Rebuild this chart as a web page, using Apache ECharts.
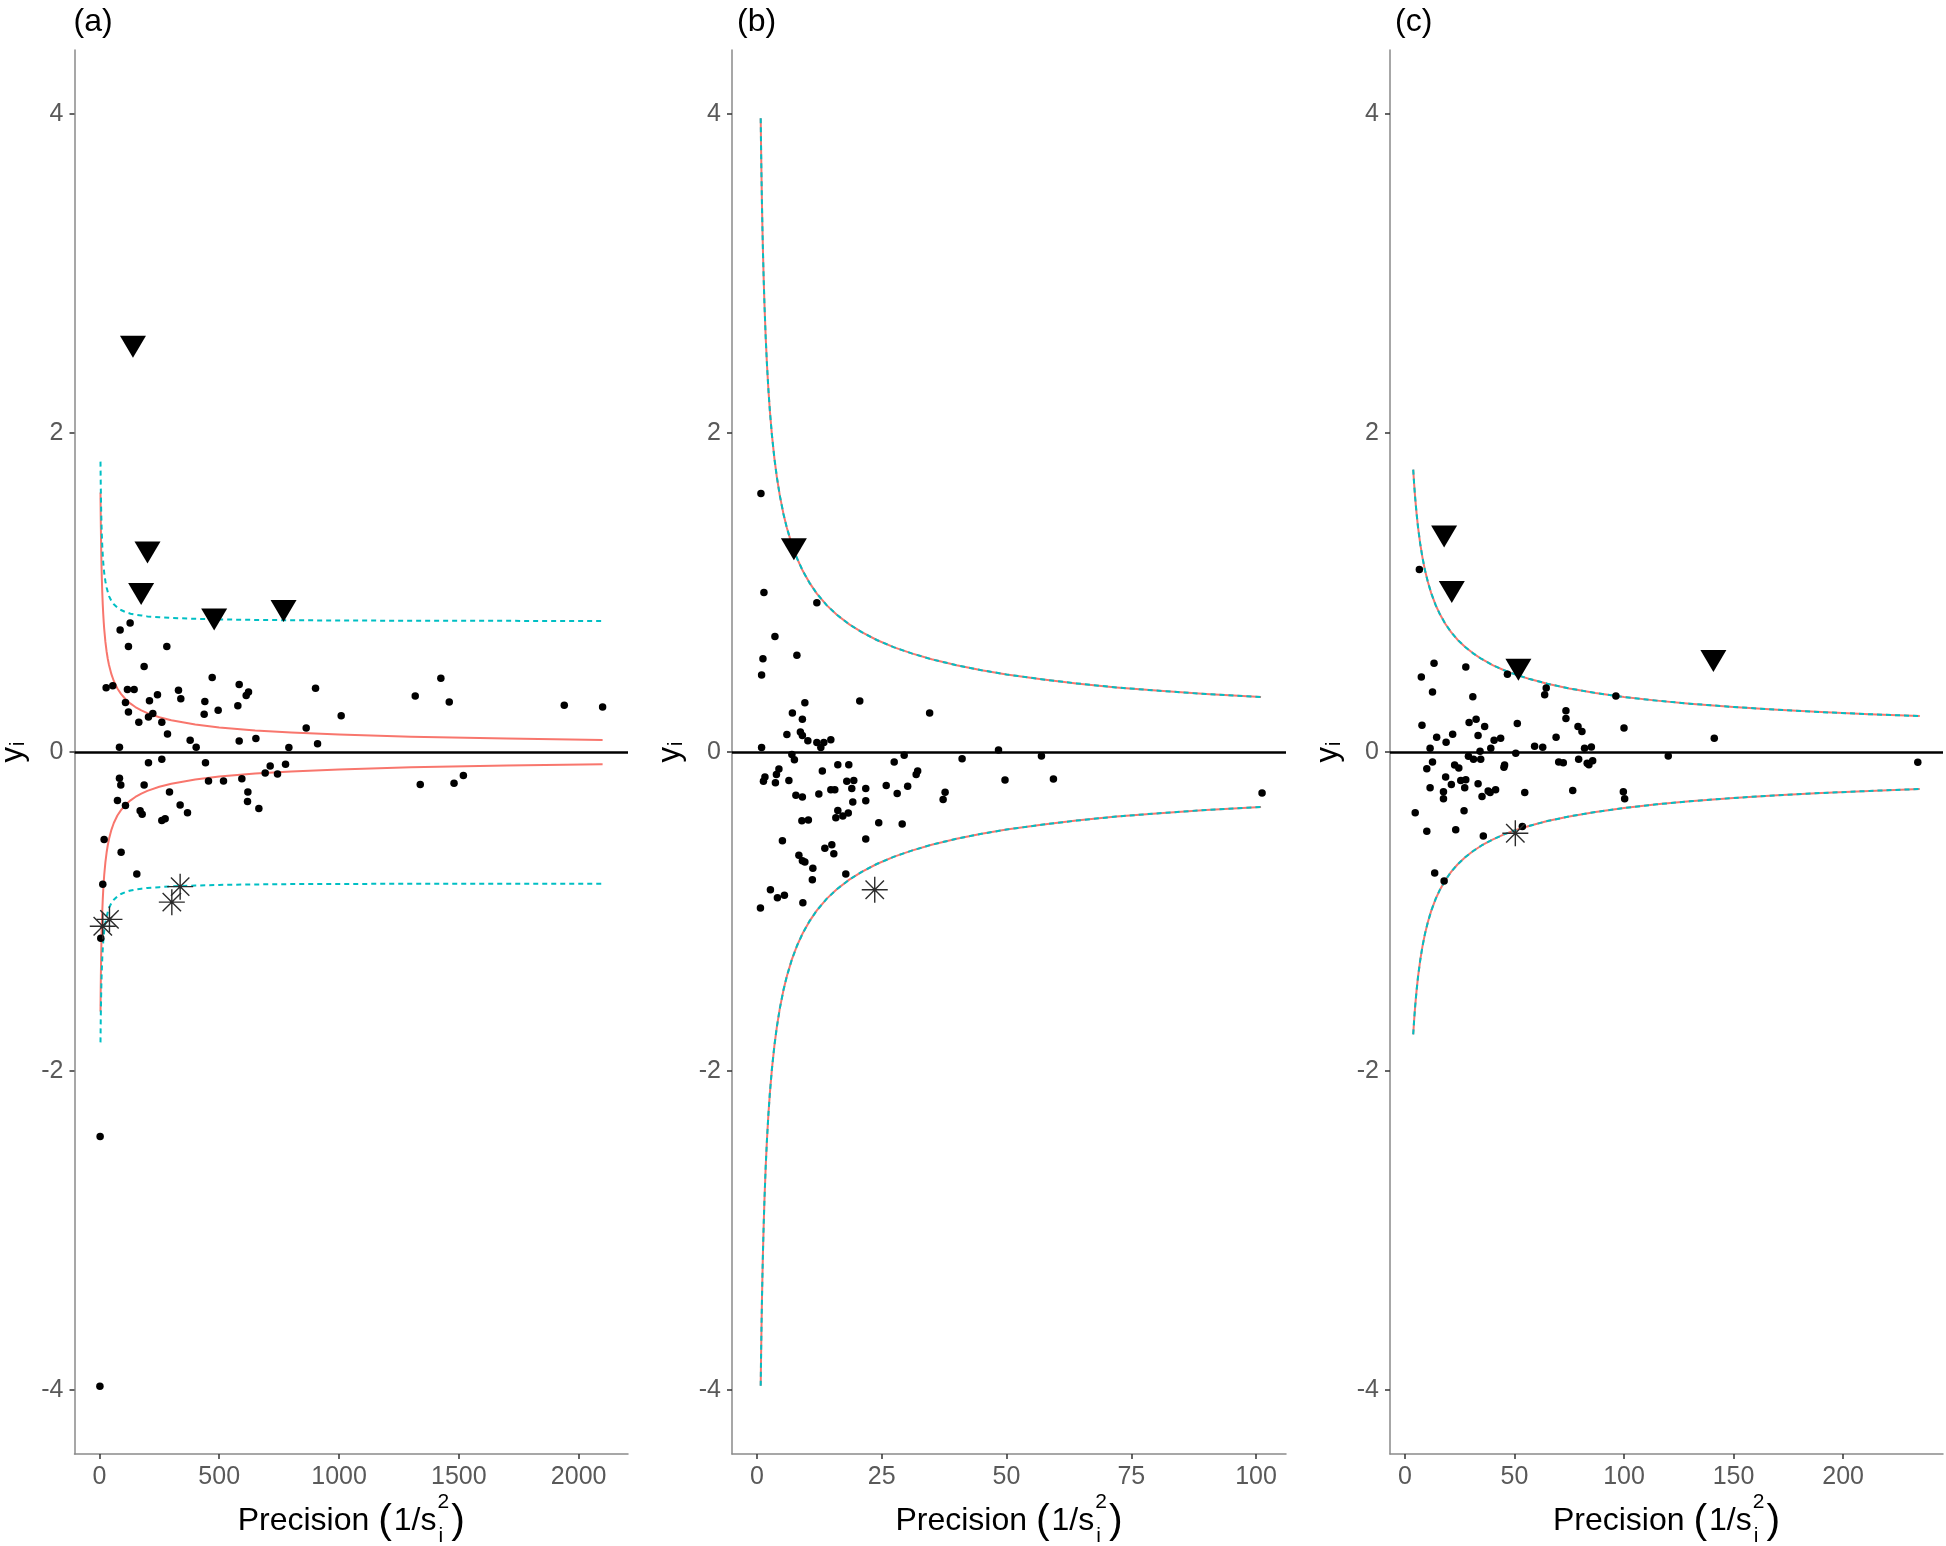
<!DOCTYPE html>
<html>
<head>
<meta charset="utf-8">
<script src="https://cdn.jsdelivr.net/npm/echarts@6/dist/echarts.min.js"></script>
<style>html,body{margin:0;padding:0;background:#fff}#chart{width:1946px;height:1546px}</style>
</head>
<body>
<div id="chart"></div>
<script>
// ---------------- DATA ----------------
const panelTags = ['(a)', '(b)', '(c)'];
const xTickValues = [[0, 500, 1000, 1500, 2000], [0, 25, 50, 75, 100], [0, 50, 100, 150, 200]];
const yTickValues = [-4, -2, 0, 2, 4];

// Panel (a)
const aDots = [[86.4,0.765],[128.2,0.808],[121.2,0.661],[281.3,0.661],[186.6,0.536],[28,0.402],[55.8,0.415],[117,0.391],[144.9,0.391],[108.7,0.311],[121.2,0.251],[164.4,0.186],[208.9,0.322],[242.3,0.359],[204.7,0.220],[222.8,0.242],[260.4,0.186],[284.1,0.113],[330,0.387],[339.7,0.333],[470.6,0.467],[440,0.316],[437.2,0.236],[495.6,0.262],[583.3,0.423],[622.3,0.376],[612.5,0.354],[577.7,0.290],[583.3,0.069],[652.9,0.085],[378.7,0.074],[403.8,0.030],[83.6,0.030],[863,0.150],[902,0.400],[790.7,0.028],[910.4,0.051],[1009,0.227],[1318,0.351],[1425,0.462],[1460,0.313],[1940,0.293],[2100,0.282],
[204.7,-0.067],[260.4,-0.045],[442.7,-0.067],[83.6,-0.164],[89.2,-0.207],[186.6,-0.207],[75.3,-0.304],[108.7,-0.336],[169.9,-0.369],[178.3,-0.390],[260.4,-0.429],[274.3,-0.418],[292.4,-0.250],[336.9,-0.332],[367.6,-0.380],[455.3,-0.181],[517.9,-0.181],[594.4,-0.168],[619.5,-0.250],[618.1,-0.310],[665.4,-0.354],[691.9,-0.131],[712.7,-0.088],[743.3,-0.138],[776.8,-0.077],[1339,-0.203],[1480,-0.196],[1519,-0.148],
[19.6,-0.548],[90.6,-0.628],[156,-0.764],[14,-0.829],[5.7,-1.168],[3,-2.41],[2,-3.976]];
const aTriangles = [[140,2.54],[200.6,1.25],[174.1,0.99],[478.9,0.83],[768.4,0.883]];
const aStars = [[336.9,-0.844],[302.2,-0.941],[41.9,-1.049],[14,-1.092]];
const aRedUpper = [[4.5,1.626],[5,1.543],[5.5,1.471],[6,1.408],[7,1.304],[8,1.220],[9,1.150],[10,1.091],[12,0.996],[14,0.922],[16,0.863],[18,0.813],[20,0.771],[25,0.690],[30,0.630],[35,0.583],[40,0.545],[50,0.488],[60,0.445],[75,0.398],[90,0.364],[110,0.329],[130,0.303],[150,0.282],[175,0.261],[200,0.244],[250,0.218],[300,0.199],[400,0.173],[500,0.154],[650,0.135],[800,0.122],[1000,0.109],[1300,0.096],[1700,0.084],[2100,0.075]];
const aRedLower = [[4.5,-1.626],[5,-1.543],[5.5,-1.471],[6,-1.408],[7,-1.304],[8,-1.220],[9,-1.150],[10,-1.091],[12,-0.996],[14,-0.922],[16,-0.863],[18,-0.813],[20,-0.771],[25,-0.690],[30,-0.630],[35,-0.583],[40,-0.545],[50,-0.488],[60,-0.445],[75,-0.398],[90,-0.364],[110,-0.329],[130,-0.303],[150,-0.282],[175,-0.261],[200,-0.244],[250,-0.218],[300,-0.199],[400,-0.173],[500,-0.154],[650,-0.135],[800,-0.122],[1000,-0.109],[1300,-0.096],[1700,-0.085],[2100,-0.077]];
const aCyanUpper = [[4.5,1.820],[5,1.746],[5.5,1.682],[6,1.628],[7,1.539],[8,1.468],[9,1.410],[10,1.363],[12,1.288],[14,1.232],[16,1.188],[18,1.152],[20,1.123],[25,1.069],[30,1.031],[35,1.003],[40,0.977],[50,0.947],[60,0.926],[75,0.905],[90,0.890],[110,0.876],[130,0.867],[150,0.861],[175,0.856],[200,0.850],[250,0.845],[300,0.840],[400,0.835],[500,0.831],[650,0.828],[800,0.826],[1000,0.824],[1300,0.823],[1700,0.822],[2100,0.821]];
const aCyanLower = [[4.5,-1.820],[5,-1.746],[5.5,-1.682],[6,-1.628],[7,-1.539],[8,-1.468],[9,-1.410],[10,-1.363],[12,-1.288],[14,-1.232],[16,-1.188],[18,-1.152],[20,-1.123],[25,-1.069],[30,-1.031],[35,-1.003],[40,-0.977],[50,-0.947],[60,-0.926],[75,-0.905],[90,-0.890],[110,-0.877],[130,-0.868],[150,-0.862],[175,-0.857],[200,-0.852],[250,-0.847],[300,-0.842],[400,-0.837],[500,-0.833],[650,-0.830],[800,-0.828],[1000,-0.827],[1300,-0.826],[1700,-0.825],[2100,-0.825]];

// Panel (b)
const bDots = [[0.8,1.621],[1.4,1.0],[12.0,0.936],[3.6,0.724],[1.2,0.585],[8.0,0.607],[0.93,0.482],[9.6,0.309],[20.6,0.320],[7.1,0.244],[9.1,0.205],[34.6,0.244],[6.0,0.110],[8.7,0.125],[9.1,0.103],[10.2,0.071],[12.0,0.060],[13.4,0.060],[14.8,0.077],[12.8,0.028],[0.93,0.028],[48.4,0.012],
[7.0,-0.015],[7.5,-0.048],[29.5,-0.020],[27.5,-0.063],[41.1,-0.042],[4.4,-0.106],[3.9,-0.141],[1.6,-0.156],[1.3,-0.184],[3.7,-0.193],[6.4,-0.178],[13.1,-0.119],[16.2,-0.080],[18.4,-0.080],[18.0,-0.184],[19.4,-0.178],[14.8,-0.236],[15.6,-0.236],[19.0,-0.228],[21.8,-0.228],[12.4,-0.264],[7.8,-0.271],[9.1,-0.282],[25.9,-0.210],[30.2,-0.215],[32.2,-0.119],[31.9,-0.141],[28.1,-0.260],[19.2,-0.314],[21.8,-0.305],[37.7,-0.253],[37.3,-0.297],[16.2,-0.366],[15.8,-0.412],[17.2,-0.401],[18.3,-0.383],[9.0,-0.431],[10.3,-0.426],[24.4,-0.444],[29.1,-0.452],[5.1,-0.556],[13.6,-0.604],[15.0,-0.582],[15.4,-0.638],[21.8,-0.545],[8.4,-0.647],[9.1,-0.681],[9.6,-0.690],[11.2,-0.729],[11.1,-0.801],[17.8,-0.764],[2.7,-0.863],[4.1,-0.913],[5.5,-0.898],[0.7,-0.978],[9.2,-0.945],
[57.0,-0.025],[49.7,-0.175],[59.4,-0.170],[101.2,-0.257]];
const bTriangles = [[7.4,1.271]];
const bStars = [[23.6,-0.863]];
const bUpper = [[0.75,3.972],[0.8,3.846],[0.85,3.731],[0.9,3.626],[1.0,3.440],[1.1,3.280],[1.2,3.140],[1.35,2.961],[1.5,2.809],[1.75,2.600],[2.0,2.432],[2.3,2.268],[2.6,2.133],[3.0,1.986],[3.5,1.839],[4.0,1.720],[4.6,1.604],[5.3,1.494],[6.0,1.404],[7.0,1.300],[8.0,1.216],[9.2,1.134],[10.5,1.062],[12,0.993],[14,0.919],[16,0.860],[18.5,0.800],[21,0.751],[24,0.702],[27.5,0.656],[31,0.618],[35,0.581],[40,0.544],[45,0.513],[50,0.486],[57,0.456],[64,0.430],[72,0.405],[80,0.385],[90,0.363],[101,0.345]];
const bLower = [[0.75,-3.972],[0.8,-3.846],[0.85,-3.731],[0.9,-3.626],[1.0,-3.440],[1.1,-3.280],[1.2,-3.140],[1.35,-2.961],[1.5,-2.809],[1.75,-2.600],[2.0,-2.432],[2.3,-2.268],[2.6,-2.133],[3.0,-1.986],[3.5,-1.839],[4.0,-1.720],[4.6,-1.604],[5.3,-1.494],[6.0,-1.404],[7.0,-1.300],[8.0,-1.216],[9.2,-1.134],[10.5,-1.062],[12,-0.993],[14,-0.919],[16,-0.860],[18.5,-0.800],[21,-0.751],[24,-0.702],[27.5,-0.656],[31,-0.618],[35,-0.581],[40,-0.544],[45,-0.513],[50,-0.486],[57,-0.456],[64,-0.430],[72,-0.405],[80,-0.385],[90,-0.363],[101,-0.345]];

// Panel (c)
const cDots = [[6.6,1.144],[13.3,0.557],[7.5,0.470],[27.8,0.532],[12.6,0.376],[31.0,0.346],[46.8,0.488],[64.5,0.401],[63.8,0.359],[96.3,0.351],[100,0.150],[7.8,0.168],[29.3,0.185],[32.5,0.205],[36.4,0.160],[33.4,0.103],[51.3,0.178],[73.5,0.259],[73.5,0.210],[79.0,0.160],[80.8,0.128],[69.0,0.093],[14.5,0.093],[18.8,0.061],[21.8,0.111],[11.5,0.024],[40.7,0.074],[43.7,0.086],[39.2,0.024],[34.3,0.004],[59.2,0.036],[62.9,0.029],[82.0,0.024],[85.1,0.031],[141.2,0.086],
[50.6,-0.008],[29.0,-0.026],[31.3,-0.045],[34.6,-0.045],[12.6,-0.063],[10.0,-0.105],[22.7,-0.082],[24.6,-0.100],[45.5,-0.082],[45.2,-0.095],[70.2,-0.063],[72.3,-0.068],[79.3,-0.045],[83.2,-0.070],[85.7,-0.055],[84.0,-0.080],[11.5,-0.224],[18.6,-0.157],[21.2,-0.204],[17.6,-0.249],[17.6,-0.293],[25.5,-0.179],[27.8,-0.174],[27.3,-0.224],[33.4,-0.199],[35.2,-0.279],[38.0,-0.244],[38.9,-0.254],[41.4,-0.236],[54.7,-0.254],[76.6,-0.241],[99.7,-0.249],[100.3,-0.293],[4.7,-0.380],[27.0,-0.368],[10.0,-0.497],[23.2,-0.487],[35.8,-0.526],[53.6,-0.467],[13.6,-0.759],[17.9,-0.809],[120.2,-0.025],[234.1,-0.065]];
const cTriangles = [[17.9,1.35],[21.4,1.003],[51.8,0.515],[140.8,0.570]];
const cStars = [[50.4,-0.509]];
const cUpper = [[3.8,1.770],[4.2,1.683],[4.7,1.591],[5.3,1.499],[6.0,1.408],[7.0,1.304],[8.0,1.220],[9.2,1.137],[10.5,1.065],[12,0.996],[14,0.922],[16,0.863],[18.5,0.802],[21,0.753],[24,0.704],[27.5,0.658],[31,0.620],[35,0.583],[40,0.545],[45,0.514],[50,0.488],[57,0.457],[65,0.428],[75,0.398],[87,0.370],[100,0.345],[115,0.322],[130,0.303],[150,0.282],[170,0.265],[190,0.250],[212,0.237],[235,0.225]];
const cLower = [[3.8,-1.770],[4.2,-1.683],[4.7,-1.591],[5.3,-1.499],[6.0,-1.408],[7.0,-1.304],[8.0,-1.220],[9.2,-1.137],[10.5,-1.065],[12,-0.996],[14,-0.922],[16,-0.863],[18.5,-0.802],[21,-0.753],[24,-0.705],[27.5,-0.660],[31,-0.622],[35,-0.586],[40,-0.549],[45,-0.518],[50,-0.492],[57,-0.462],[65,-0.433],[75,-0.404],[87,-0.376],[100,-0.351],[115,-0.328],[130,-0.309],[150,-0.288],[170,-0.271],[190,-0.257],[212,-0.244],[235,-0.232]];

// ---------------- LAYOUT / STYLE ----------------
const FONT = "'Liberation Sans', Arial, Helvetica, sans-serif";
const RED = '#F8766D', CYAN = '#00BFC4';
const gridBoxes = [
  {left: 74.5, top: 50, width: 553.5, height: 1404},
  {left: 732, top: 50, width: 554, height: 1404},
  {left: 1390, top: 50, width: 553, height: 1404}
];
const xRanges = [[-104, 2206], [-5, 106], [-6.8, 245.6]];
const yRange = [-4.4, 4.4];

const panels = [
  {dots: aDots, tri: aTriangles, stars: aStars, redU: aRedUpper, redL: aRedLower, cyU: aCyanUpper, cyL: aCyanLower},
  {dots: bDots, tri: bTriangles, stars: bStars, redU: bUpper, redL: bLower, cyU: bUpper, cyL: bLower},
  {dots: cDots, tri: cTriangles, stars: cStars, redU: cUpper, redL: cLower, cyU: cUpper, cyL: cLower}
];

const axisLineStyle = {color: '#8a8a8a', width: 1.5};
const tickStyle = {color: '#333333', width: 1.5};
const labelColor = '#595959';

const grids = [], xAxes = [], yAxes = [], series = [];
const STAR = 'path://M12,0L12,24M0,12L24,12M3.5,3.5L20.5,20.5M3.5,20.5L20.5,3.5';

panels.forEach((p, i) => {
  grids.push(Object.assign({containLabel: false, outerBoundsMode: 'none'}, gridBoxes[i]));
  xAxes.push({
    gridIndex: i, type: 'value', min: xRanges[i][0], max: xRanges[i][1],
    axisLine: {show: true, onZero: false, lineStyle: axisLineStyle},
    axisTick: {show: true, length: 5, lineStyle: tickStyle, customValues: xTickValues[i]},
    axisLabel: {customValues: xTickValues[i], margin: 11, fontSize: 25, fontFamily: FONT, color: labelColor,
      formatter: v => String(v)},
    splitLine: {show: false}
  });
  yAxes.push({
    gridIndex: i, type: 'value', min: yRange[0], max: yRange[1],
    axisLine: {show: true, onZero: false, lineStyle: axisLineStyle},
    axisTick: {show: true, length: 5, lineStyle: tickStyle, customValues: yTickValues},
    axisLabel: {customValues: yTickValues, margin: 11, fontSize: 25, fontFamily: FONT, color: labelColor,
      formatter: v => String(v)},
    splitLine: {show: false},
    name: '{m|y}{s|i}', nameLocation: 'middle', nameGap: 46, nameRotate: 90,
    nameTextStyle: {rich: {
      m: {fontSize: 31, fontFamily: FONT, color: '#000', lineHeight: 31},
      s: {fontSize: 20, fontFamily: FONT, color: '#000', lineHeight: 20, verticalAlign: 'bottom', padding: [0, 0, 0, 1]}
    }}
  });
  const ax = {xAxisIndex: i, yAxisIndex: i, animation: false, silent: true};
  // zero reference line
  series.push(Object.assign({type: 'scatter', data: [], z: 1,
    markLine: {silent: true, symbol: ['none', 'none'], label: {show: false},
      lineStyle: {color: '#000', width: 2.6, type: 'solid'}, data: [{yAxis: 0}], animation: false}}, ax));
  const line = (data, color, type, z) => Object.assign({type: 'line', data, z, showSymbol: false, symbol: 'none',
    smooth: false, lineStyle: {color, width: 2, type, cap: 'butt', join: 'round'}}, ax);
  series.push(line(p.redU, RED, 'solid', 2));
  series.push(line(p.redL, RED, 'solid', 2));
  series.push(line(p.cyU, CYAN, [5, 4], 3));
  series.push(line(p.cyL, CYAN, [5, 4], 3));
  series.push(Object.assign({type: 'scatter', data: p.dots, z: 4, symbol: 'circle', symbolSize: 7.5,
    itemStyle: {color: '#000', opacity: 1}}, ax));
  series.push(Object.assign({type: 'scatter', data: p.tri, z: 5, symbol: 'triangle', symbolRotate: 180,
    symbolSize: [26, 22], itemStyle: {color: '#000', opacity: 1}}, ax));
  series.push(Object.assign({type: 'scatter', data: p.stars, z: 5, symbol: STAR, symbolSize: 26, symbolKeepAspect: true,
    itemStyle: {color: 'none', borderColor: '#2b2b2b', borderWidth: 1.4, opacity: 1}}, ax));
});

// ---------------- TEXT (titles, tags) ----------------
const measureCtx = document.createElement('canvas').getContext('2d');
function tw(s, size) { measureCtx.font = size + 'px ' + FONT; return measureCtx.measureText(s).width; }
function txt(s, x, y, size, extra) {
  return Object.assign({type: 'text', x, y, z: 100, silent: true,
    style: {text: s, font: size + 'px ' + FONT, fill: '#000', textAlign: 'left', align: 'left',
      textVerticalAlign: 'middle', verticalAlign: 'middle'}}, extra || {});
}
const graphics = [];
gridBoxes.forEach((g, i) => {
  const cx = g.left + g.width / 2;
  const MS = 32, PS = 41, SS = 21;
  const w1 = tw('Precision ', MS), wp = tw('(', PS), w3 = tw('1/s', MS), ws = tw('2', SS);
  const total = w1 + wp + 2 + w3 + ws + 3 + wp;
  let x = cx - total / 2;
  const yM = 1521;
  graphics.push(txt('Precision ', x, yM, MS)); x += w1;
  graphics.push(txt('(', x, yM + 1, PS)); x += wp + 2;
  graphics.push(txt('1/s', x, yM, MS)); x += w3;
  graphics.push(txt('2', x + 1, 1502, SS));
  graphics.push(txt('i', x + 2, 1536, SS)); x += ws + 3;
  graphics.push(txt(')', x, yM + 1, PS));
  graphics.push(txt(panelTags[i], g.left + (i === 0 ? -1 : 5), 22, 32));
});

const chart = echarts.init(document.getElementById('chart'), null, {renderer: 'canvas'});
chart.setOption({
  backgroundColor: '#ffffff',
  animation: false,
  grid: grids, xAxis: xAxes, yAxis: yAxes, series, graphic: graphics
});
</script>
</body>
</html>
